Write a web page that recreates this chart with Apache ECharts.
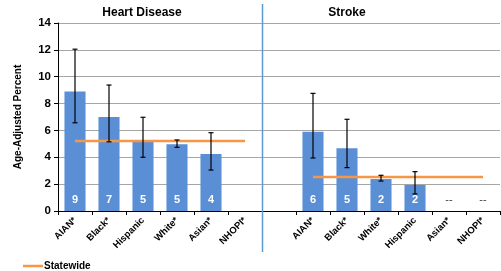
<!DOCTYPE html>
<html>
<head>
<meta charset="utf-8">
<script src="https://cdn.jsdelivr.net/npm/echarts@6/dist/echarts.min.js"></script>
<style>
  html, body { margin: 0; padding: 0; background: #fff; }
  #chart { width: 501px; height: 271px; }
</style>
</head>
<body>
<div id="chart"></div>
<script>
// categories: heart disease block, empty spacer, stroke block
const heartGroups = ['AIAN*', 'Black*', 'Hispanic', 'White*', 'Asian*', 'NHOPI*']
const strokeGroups = ['AIAN*', 'Black*', 'White*', 'Hispanic', 'Asian*', 'NHOPI*']

const heartValues = [8.9, 7.0, 5.15, 4.97, 4.24, null]
const heartLower = [6.57, 5.15, 4.0, 4.74, 3.05, null]
const heartUpper = [12.05, 9.38, 6.98, 5.29, 5.83, null]
const heartLabels = ['9', '7', '5', '5', '4', '']
const heartStatewide = 5.21

const strokeValues = [5.9, 4.67, 2.38, 1.94, 0, 0]
const strokeLower = [3.95, 3.23, 2.23, 1.27, null, null]
const strokeUpper = [8.76, 6.83, 2.66, 2.93, null, null]
const strokeLabels = ['6', '5', '2', '2', '--', '--']
const strokeStatewide = 2.53

const yTicks = [0, 2, 4, 6, 8, 10, 12, 14]

const FONT = 'Liberation Sans'
const BLUE = '#5a8fd6'
const ORANGE = '#f79646'

// put both blocks on one axis, with a blank slot between them
const categories = [...heartGroups, '', ...strokeGroups]
const barValues = [...heartValues, null, ...strokeValues]
const barLabels = [...heartLabels, '', ...strokeLabels]
const lowers = [...heartLower, null, ...strokeLower]
const uppers = [...heartUpper, null, ...strokeUpper]
const statewide = [
    ...heartGroups.map(() => heartStatewide),
    null,
    ...strokeGroups.map(() => strokeStatewide)
]

const barData = barValues.map((v, i) => {
    if (v === null) return null
    if (barLabels[i] === '--') {
        return { value: v, label: { show: true, formatter: '--', color: '#404040', fontWeight: 'normal', distance: 6 } }
    }
    return { value: v }
})

const errData = lowers.map((lo, i) => lo === null ? null : [i, lo, uppers[i]])

const chart = echarts.init(document.getElementById('chart'))

chart.setOption({
    animation: false,
    textStyle: { fontFamily: FONT },
    title: [
        { text: 'Heart Disease', left: 137, top: 2, textAlign: 'center',
          textStyle: { fontFamily: FONT, fontSize: 12, fontWeight: 'bold', color: '#000' } },
        { text: 'Stroke', left: 342, top: 2, textAlign: 'center',
          textStyle: { fontFamily: FONT, fontSize: 12, fontWeight: 'bold', color: '#000' } }
    ],
    legend: {
        left: 18,
        top: 256,
        data: [{ name: 'Statewide', icon: 'rect' }],
        itemWidth: 20,
        itemHeight: 2.5,
        itemGap: 2,
        textStyle: { fontFamily: FONT, fontSize: 10, fontWeight: 'bold', color: '#000', padding: [0, 0, 0, -4] }
    },
    grid: { left: 58, right: 1, top: 23, bottom: 60 },
    xAxis: {
        type: 'category',
        data: categories,
        axisLine: { lineStyle: { color: '#000', width: 1 } },
        axisTick: { show: true, length: 4, lineStyle: { color: '#000' } },
        axisLabel: {
            interval: 0,
            rotate: 45,
            margin: 8,
            fontFamily: FONT,
            fontSize: 9.5,
            fontWeight: 'bold',
            color: '#000'
        }
    },
    yAxis: {
        type: 'value',
        min: 0,
        max: 14,
        interval: 2,
        name: 'Age-Adjusted Percent',
        nameLocation: 'middle',
        nameGap: 35,
        nameTextStyle: { fontFamily: FONT, fontSize: 10, fontWeight: 'bold', color: '#000' },
        axisLine: { show: true, lineStyle: { color: '#000' } },
        axisTick: { show: true, length: 4, lineStyle: { color: '#000' } },
        axisLabel: {
            fontFamily: FONT, fontSize: 11.5, fontWeight: 'bold', color: '#000', margin: 7,
            formatter: v => yTicks.includes(v) ? String(v) : ''
        },
        splitLine: { lineStyle: { color: '#a6a6a6', width: 1 } }
    },
    series: [
        {
            type: 'bar',
            name: 'Rate',
            data: barData,
            barWidth: '62%',
            itemStyle: { color: BLUE },
            label: {
                show: true,
                position: 'insideBottom',
                distance: 6,
                color: '#fff',
                fontFamily: FONT,
                fontSize: 11,
                fontWeight: 'bold',
                formatter: p => barLabels[p.dataIndex]
            },
            z: 2
        },
        {
            type: 'line',
            name: 'Statewide',
            data: statewide,
            symbol: 'none',
            connectNulls: false,
            lineStyle: { color: ORANGE, width: 2.5 },
            itemStyle: { color: ORANGE },
            z: 4
        },
        {
            type: 'custom',
            name: 'CI',
            data: errData,
            encode: { x: 0, y: [1, 2] },
            renderItem: (params, api) => {
                const x = api.value(0)
                const lo = api.coord([x, api.value(1)])
                const hi = api.coord([x, api.value(2)])
                const cap = 2.5
                const style = { stroke: '#000', lineWidth: 1.2 }
                return {
                    type: 'group',
                    children: [
                        { type: 'line', shape: { x1: lo[0], y1: lo[1], x2: hi[0], y2: hi[1] }, style },
                        { type: 'line', shape: { x1: lo[0] - cap, y1: lo[1], x2: lo[0] + cap, y2: lo[1] }, style },
                        { type: 'line', shape: { x1: hi[0] - cap, y1: hi[1], x2: hi[0] + cap, y2: hi[1] }, style }
                    ]
                }
            },
            z: 5
        }
    ]
})

// blue divider between the two blocks, at the left edge of the blank slot
const gapIndex = heartGroups.length
const c0 = chart.convertToPixel({ xAxisIndex: 0 }, 0)
const c1 = chart.convertToPixel({ xAxisIndex: 0 }, 1)
const divX = Math.round(chart.convertToPixel({ xAxisIndex: 0 }, gapIndex) - (c1 - c0) / 2) + 0.5
chart.setOption({
    graphic: [{
        type: 'line',
        shape: { x1: divX, y1: 4, x2: divX, y2: 252 },
        style: { stroke: '#5b9bd5', lineWidth: 1.5 },
        z: 10
    }]
})
</script>
</body>
</html>
